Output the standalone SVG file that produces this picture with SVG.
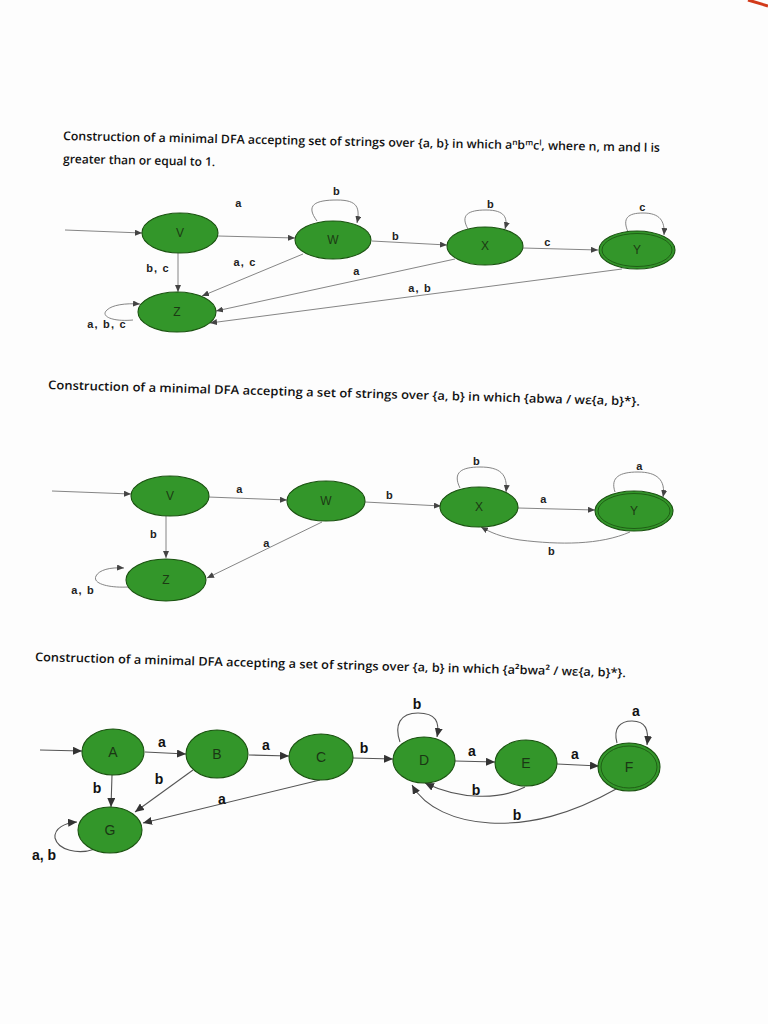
<svg xmlns="http://www.w3.org/2000/svg" width="768" height="1024" viewBox="0 0 768 1024">
<defs>
<style>
.title{font-family:"Open Sans","Liberation Sans",sans-serif;font-size:12px;font-weight:600;fill:#111}
.node{fill:#33962a;stroke:#1a5210;stroke-width:1.1}
.inner{fill:none;stroke:#1a5210;stroke-width:0.8}
.nl{font-family:"Liberation Sans",sans-serif;font-size:12px;fill:#1c3a14;text-anchor:middle;dominant-baseline:central}
.nl3{font-family:"Liberation Sans",sans-serif;font-size:14px;fill:#1a3614;text-anchor:middle;dominant-baseline:central}
.e{fill:none;stroke:#777;stroke-width:0.9;marker-end:url(#ah)}
.e3{fill:none;stroke:#555;stroke-width:1.1;marker-end:url(#ah3)}
.lb{font-family:"Liberation Sans",sans-serif;font-size:11px;font-weight:bold;fill:#222;text-anchor:middle;letter-spacing:1.2px}
.lb3{font-family:"Liberation Sans",sans-serif;font-size:14px;font-weight:bold;fill:#111;text-anchor:middle}
</style>
<marker id="ah" markerUnits="userSpaceOnUse" markerWidth="8" markerHeight="6" refX="7" refY="3" orient="auto"><path d="M0,0 L7,3 L0,6 z" fill="#444"/></marker>
<marker id="ah3" markerUnits="userSpaceOnUse" markerWidth="10" markerHeight="8" refX="9" refY="4" orient="auto"><path d="M0,0 L9,4 L0,8 z" fill="#333"/></marker>
</defs>
<rect width="768" height="1024" fill="#fdfdfd"/>
<path d="M748,0 L768,6" stroke="#d23a1a" stroke-width="3"/>

<!-- Titles -->
<text class="title" x="63" y="140" transform="rotate(1.15 63 140)" textLength="597" lengthAdjust="spacingAndGlyphs">Construction of a minimal DFA accepting set of strings over {a, b} in which a<tspan font-size="8" dy="-4">n</tspan><tspan dy="4">b</tspan><tspan font-size="8" dy="-4">m</tspan><tspan dy="4">c</tspan><tspan font-size="8" dy="-4">l</tspan><tspan dy="4">, where n, m and l is</tspan></text>
<text class="title" x="63" y="163" transform="rotate(1.15 63 163)">greater than or equal to 1.</text>
<text class="title" x="48" y="389" transform="rotate(1.6 48 389)" textLength="592" lengthAdjust="spacingAndGlyphs">Construction of a minimal DFA accepting a set of strings over {a, b} in which {abwa / wε{a, b}*}.</text>
<text class="title" x="35" y="661" transform="rotate(1.55 35 661)" textLength="591" lengthAdjust="spacingAndGlyphs">Construction of a minimal DFA accepting a set of strings over {a, b} in which {a²bwa² / wε{a, b}*}.</text>

<!-- Diagram 1 connectors -->
<g id="edges1">
<path class="e" d="M65,230 L142,233"/>
<path class="e" d="M218,236 L295,238"/>
<path class="e" d="M372,241 L447,245"/>
<path class="e" d="M523,248 L598,250"/>
<path class="e" d="M178,253 L178,292"/>
<path class="e" d="M303,254 L202,296"/>
<path class="e" d="M455,259 L216,311"/>
<path class="e" d="M622,269 L210,323"/>
<path class="e" d="M317,221 C305,205 315,200 337,200 C358,200 360,208 357,223"/>
<path class="e" d="M468,229 C460,215 468,210 486,210 C505,210 508,218 505,229"/>
<path class="e" d="M628,232 C622,218 628,213 643,213 C660,213 665,221 664,235"/>
<path class="e" d="M133,320 C112,322 100,316 107,310 C112,305 125,303 140,304"/>
</g>
<g id="labels1">
<text class="lb" x="337" y="195">b</text>
<text class="lb" x="491" y="208">b</text>
<text class="lb" x="643" y="211">c</text>
<text class="lb" x="239" y="207">a</text>
<text class="lb" x="396" y="240">b</text>
<text class="lb" x="548" y="246">c</text>
<text class="lb" x="158" y="272">b, c</text>
<text class="lb" x="245" y="266">a, c</text>
<text class="lb" x="357" y="275">a</text>
<text class="lb" x="420" y="292">a, b</text>
<text class="lb" x="107" y="328">a, b, c</text>
</g>
<g id="d1-V"><ellipse class="node" cx="180" cy="233" rx="38" ry="20"/><text class="nl" x="180" y="233">V</text></g>
<g id="d1-W"><ellipse class="node" cx="333" cy="240" rx="38" ry="19"/><text class="nl" x="333" y="240">W</text></g>
<g id="d1-X"><ellipse class="node" cx="485" cy="246" rx="38" ry="19"/><text class="nl" x="485" y="246">X</text></g>
<g id="d1-Y"><ellipse class="node" cx="637" cy="250" rx="38" ry="19"/><ellipse class="inner" cx="637" cy="250" rx="35" ry="16.5"/><text class="nl" x="637" y="250">Y</text></g>
<g id="d1-Z"><ellipse class="node" cx="177" cy="312" rx="39" ry="20"/><text class="nl" x="177" y="312">Z</text></g>

<!-- Diagram 2 connectors -->
<g id="edges2">
<path class="e" d="M52,491 L131,494"/>
<path class="e" d="M208,497 L287,500"/>
<path class="e" d="M365,502 L441,506"/>
<path class="e" d="M518,508 L595,510"/>
<path class="e" d="M166,516 L166,558"/>
<path class="e" d="M322,522 L207,578"/>
<path class="e" d="M630,532 C600,545 560,545 520,540 C500,537 490,532 481,527"/>
<path class="e" d="M460,488 C452,472 462,467 480,467 C500,467 508,474 506,492"/>
<path class="e" d="M615,492 C610,477 620,472 638,472 C657,472 666,480 663,497"/>
<path class="e" d="M128,587 C110,588 92,584 96,576 C99,570 110,567 124,568"/>
</g>
<g id="labels2">
<text class="lb" x="240" y="493">a</text>
<text class="lb" x="390" y="499">b</text>
<text class="lb" x="477" y="465">b</text>
<text class="lb" x="640" y="470">a</text>
<text class="lb" x="544" y="503">a</text>
<text class="lb" x="552" y="555">b</text>
<text class="lb" x="154" y="538">b</text>
<text class="lb" x="267" y="547">a</text>
<text class="lb" x="83" y="594">a, b</text>
</g>
<g id="d2-V"><ellipse class="node" cx="170" cy="496" rx="39" ry="20"/><text class="nl" x="170" y="496">V</text></g>
<g id="d2-W"><ellipse class="node" cx="326" cy="501" rx="39" ry="20"/><text class="nl" x="326" y="501">W</text></g>
<g id="d2-X"><ellipse class="node" cx="479" cy="507" rx="39" ry="20"/><text class="nl" x="479" y="507">X</text></g>
<g id="d2-Y"><ellipse class="node" cx="634" cy="511" rx="39" ry="20"/><ellipse class="inner" cx="634" cy="511" rx="36" ry="17.5"/><text class="nl" x="634" y="511">Y</text></g>
<g id="d2-Z"><ellipse class="node" cx="166" cy="580" rx="40" ry="21"/><text class="nl" x="166" y="580">Z</text></g>

<!-- Diagram 3 connectors -->
<g id="edges3">
<path class="e3" d="M40,750 L82,751"/>
<path class="e3" d="M145,752 L186,754"/>
<path class="e3" d="M249,755 L289,756"/>
<path class="e3" d="M353,758 L393,759"/>
<path class="e3" d="M455,761 L495,762"/>
<path class="e3" d="M557,764 L599,766"/>
<path class="e3" d="M112,775 L111,807"/>
<path class="e3" d="M193,770 L135,812"/>
<path class="e3" d="M320,780 L143,823"/>
<path class="e3" d="M525,787 C500,800 460,800 425,783"/>
<path class="e3" d="M618,788 C570,815 530,825 490,823 C455,821 425,808 412,785"/>
<path class="e3" d="M400,742 C394,725 400,713 418,713 C436,713 440,722 437,737"/>
<path class="e3" d="M617,743 C613,728 620,721 632,721 C646,721 649,730 647,745"/>
<path class="e3" d="M95,849 C78,855 58,850 55,838 C54,828 65,823 77,822"/>
</g>
<g id="labels3">
<text class="lb3" x="162" y="747">a</text>
<text class="lb3" x="266" y="750">a</text>
<text class="lb3" x="364" y="753">b</text>
<text class="lb3" x="472" y="756">a</text>
<text class="lb3" x="575" y="759">a</text>
<text class="lb3" x="417" y="709">b</text>
<text class="lb3" x="636" y="716">a</text>
<text class="lb3" x="97" y="793">b</text>
<text class="lb3" x="159" y="784">b</text>
<text class="lb3" x="222" y="804">a</text>
<text class="lb3" x="476" y="795">b</text>
<text class="lb3" x="517" y="820">b</text>
<text class="lb3" x="44" y="860">a, b</text>
</g>
<g id="d3-A"><ellipse class="node" cx="113" cy="752" rx="31" ry="23"/><text class="nl3" x="113" y="752">A</text></g>
<g id="d3-B"><ellipse class="node" cx="217" cy="754" rx="31" ry="24"/><text class="nl3" x="217" y="754">B</text></g>
<g id="d3-C"><ellipse class="node" cx="321" cy="757" rx="32" ry="23"/><text class="nl3" x="321" y="757">C</text></g>
<g id="d3-D"><ellipse class="node" cx="424" cy="760" rx="31" ry="23"/><text class="nl3" x="424" y="760">D</text></g>
<g id="d3-E"><ellipse class="node" cx="526" cy="763" rx="31" ry="23"/><text class="nl3" x="526" y="763">E</text></g>
<g id="d3-F"><ellipse class="node" cx="629" cy="767" rx="31" ry="24"/><ellipse class="inner" cx="629" cy="767" rx="28" ry="21"/><text class="nl3" x="629" y="767">F</text></g>
<g id="d3-G"><ellipse class="node" cx="110" cy="830" rx="32" ry="23"/><text class="nl3" x="110" y="830">G</text></g>
</svg>
